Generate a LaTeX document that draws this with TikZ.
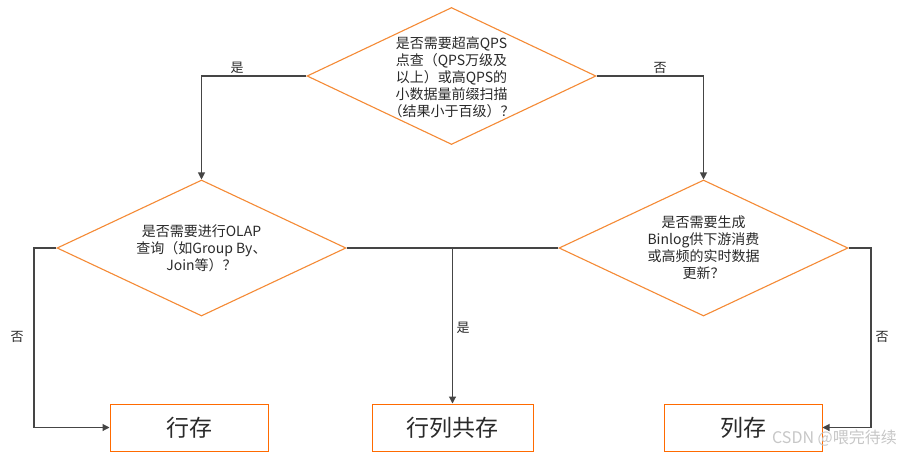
\documentclass[tikz,border=0pt]{standalone}
\usepackage{fontspec}
\setmainfont{Noto Sans CJK SC}
\usetikzlibrary{shapes.geometric,arrows.meta}
\definecolor{diaor}{HTML}{F58A35}
\definecolor{boxor}{HTML}{FF6A00}
\definecolor{lnc}{HTML}{454545}
\definecolor{txc}{HTML}{2A2A2A}
\tikzset{
  dia/.style={diamond, draw=diaor, line width=1.1pt, inner sep=0pt, aspect=2.1},
  qtext/.style={text=txc, align=center, font=\fontsize{14}{17}\selectfont, inner sep=0pt},
  endbox/.style={draw=boxor, line width=1pt, minimum width=158pt, minimum height=47pt, text=txc, font=\fontsize{23}{26}\selectfont},
  conn/.style={draw=lnc, line width=1.1pt, -{Triangle[length=7pt,width=7pt]}},
  plain/.style={draw=lnc, line width=1.1pt},
  lbl/.style={text=txc, font=\fontsize{13}{15}\selectfont, inner sep=0pt}
}
\begin{document}
\begin{tikzpicture}[x=1pt,y=-1pt]
\useasboundingbox[fill=white] (0,0) rectangle (898,456);
% diamonds
\node[dia, minimum width=289pt, minimum height=137pt] (q1) at (451.5,76) {};
\node[qtext] (t1) at (451.5,77) {是否需要超高QPS\\点查（QPS万级及\\以上）或高QPS的\\小数据量前缀扫描\\（结果小于百级）？};
\node[dia, minimum width=289pt, minimum height=136pt] (q2) at (201.5,248) {};
\node[qtext] (t2) at (201.5,248) {是否需要进行OLAP\\查询（如Group By、\\Join等）？};
\node[dia, minimum width=289pt, minimum height=136pt] (q3) at (703.5,248) {};
\node[qtext] (t3) at (703.5,248) {是否需要生成\\Binlog供下游消费\\或高频的实时数据\\更新？};
% result boxes
\node[endbox] (b1) at (189,427.5) {行存};
\node[endbox, minimum width=161pt] (b2) at (452.5,427.5) {行列共存};
\node[endbox] (b3) at (743,427.5) {列存};
% connectors
\draw[conn] (q1.west) -| (q2.north);
\draw[conn] (q1.east) -| (q3.north);
\coordinate (lturn) at (34,248);
\coordinate (rturn) at (871,248);
\draw[conn] (q2.west) -- (lturn) |- (b1.west);
\draw[conn] (q2.east) -| (b2.north);
\draw[plain] (q3.west) -- (b2.north |- q3.west);
\draw[conn] (q3.east) -- (rturn) |- (b3.east);
% labels
\node[lbl] (l1) at (237,68) {是};
\node[lbl] (l2) at (660,68) {否};
\node[lbl] (l3) at (17,337) {否};
\node[lbl] (l4) at (463,328) {是};
\node[lbl] (l5) at (882,337) {否};
% watermark
\node[text=black!22, font=\fontsize{16}{18}\selectfont, anchor=east, inner sep=0pt] (wm) at (897,438) {CSDN @喂完待续};
\end{tikzpicture}
\end{document}
